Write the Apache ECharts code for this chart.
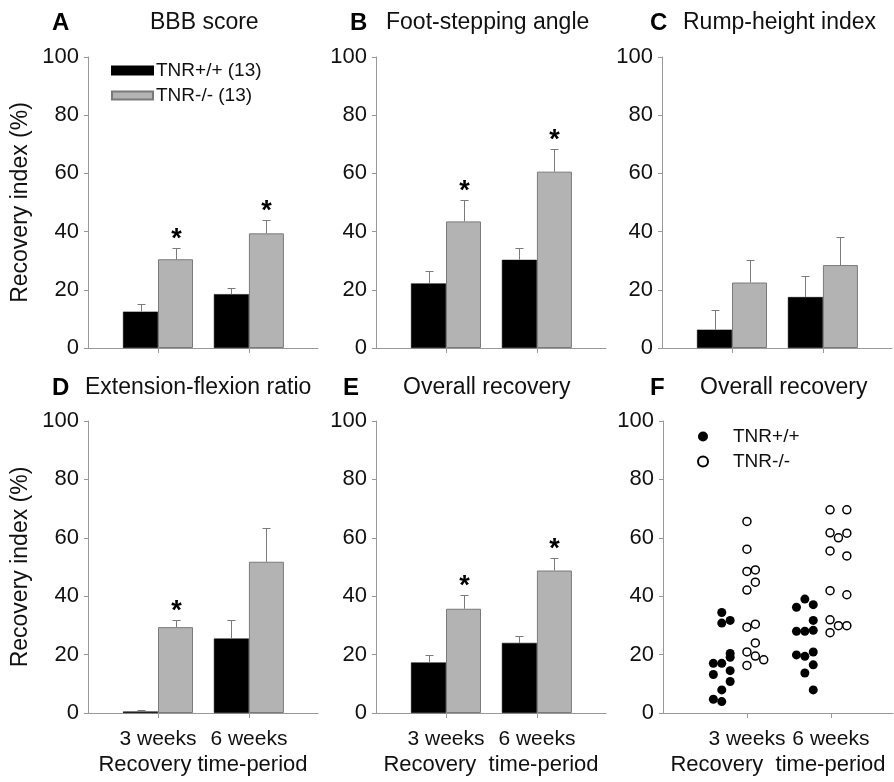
<!DOCTYPE html>
<html>
<head>
<meta charset="utf-8">
<script src="https://cdn.jsdelivr.net/npm/echarts@6/dist/echarts.min.js"></script>
<style>
  html, body { margin: 0; padding: 0; background: #fff; }
  #chart { width: 894px; height: 782px; }
</style>
</head>
<body>
<div id="chart"></div>
<script>
// ---- data ----
const weeks = ['3 weeks', '6 weeks'];
const groupPos = [1, 2];

const letters = ['A', 'B', 'C', 'D', 'E', 'F'];
const titles = ['BBB score', 'Foot-stepping angle', 'Rump-height index',
  'Extension-flexion ratio', 'Overall recovery', 'Overall recovery'];

// bar panels A-E: [3 weeks, 6 weeks]
const wtMean = [[12.5, 18.5], [22.2, 30.3], [6.3, 17.5], [0.5, 25.5], [17.3, 24.0]];
const wtUpper = [[15.0, 20.5], [26.6, 34.5], [13.2, 24.8], [1.0, 31.9], [20.0, 26.5]];
const koMean = [[30.5, 39.4], [43.5, 60.6], [22.5, 28.5], [29.4, 51.8], [35.7, 48.8]];
const koUpper = [[34.5, 44.0], [50.7, 68.5], [30.4, 38.3], [31.9, 63.2], [40.3, 53.1]];
const koStar = [[1, 1], [1, 1], [0, 0], [1, 0], [1, 1]];

// panel F: individual animals [column position, recovery index]
const f3wkWT = [[0.7, 34.4], [0.7, 30.8], [0.8, 31.7], [0.8, 20.4], [0.8, 19.1], [0.6, 17.0], [0.7, 17.0],
  [0.6, 13.2], [0.8, 14.5], [0.8, 10.8], [0.7, 7.9], [0.6, 4.7], [0.7, 3.9]];
const f3wkKO = [[1.0, 65.6], [1.0, 56.1], [1.0, 48.5], [1.1, 49.0], [1.1, 44.8], [1.0, 42.1], [1.0, 29.4],
  [1.1, 30.4], [1.1, 24.0], [1.0, 20.9], [1.1, 19.5], [1.2, 18.2], [1.0, 16.3]];
const f6wkWT = [[1.69, 39.0], [1.59, 36.2], [1.79, 37.1], [1.79, 31.7], [1.59, 28.0], [1.69, 28.0], [1.79, 28.3],
  [1.59, 19.9], [1.69, 19.4], [1.79, 20.9], [1.79, 16.5], [1.69, 13.7], [1.79, 7.9]];
const f6wkKO = [[1.99, 69.6], [2.19, 69.6], [1.99, 61.7], [2.19, 61.6], [2.09, 60.0], [1.99, 55.5], [2.19, 53.8],
  [1.99, 41.9], [2.19, 40.5], [1.99, 31.9], [2.09, 29.9], [2.19, 29.9], [1.99, 27.5]];

// ---- layout / style ----
const FONT = "'Liberation Sans', Arial, sans-serif";
const TXT = '#111';
const AX = '#999';
const BAR_W = 35;
const GRIDS = [
  { left: 88, top: 57, width: 230, height: 291 },
  { left: 376, top: 57, width: 230, height: 291 },
  { left: 662, top: 57, width: 230, height: 291 },
  { left: 88, top: 421, width: 230, height: 292 },
  { left: 376, top: 421, width: 230, height: 292 },
  { left: 663, top: 421, width: 230, height: 292 },
];
const LETTER_POS = [[52, 11], [350, 11], [650, 11], [52, 376], [343, 376], [650, 376]];
const TITLE_POS = [[150, 11], [386, 11], [683, 11], [85, 376], [403, 376], [700, 376]];

const xNames = ['', '', '', 'Recovery time-period', 'Recovery  time-period', 'Recovery  time-period'];

function xAxis(i) {
  const bottom = i >= 3;
  return {
    gridIndex: i,
    type: 'value',
    min: i === 5 ? 0 : 0.23,
    max: i === 5 ? 2.74 : 2.76,
    axisLine: { show: true, onZero: false, lineStyle: { color: AX, width: 1 } },
    axisTick: { show: true, customValues: groupPos, length: 5, lineStyle: { color: AX } },
    axisLabel: {
      show: bottom, customValues: groupPos, margin: 16,
      formatter: (v) => weeks[groupPos.indexOf(v)] || '',
      fontSize: 21, color: TXT, fontFamily: FONT,
    },
    splitLine: { show: false },
    name: xNames[i], nameLocation: 'middle', nameGap: 41,
    nameTextStyle: { fontSize: 22, color: TXT, fontFamily: FONT },
  };
}

function yAxis(i) {
  return {
    gridIndex: i,
    type: 'value', min: 0, max: 100, interval: 20,
    axisLine: { show: true, lineStyle: { color: AX, width: 1 } },
    axisTick: { show: true, length: 4, lineStyle: { color: AX } },
    axisLabel: { fontSize: 22, color: TXT, fontFamily: FONT, margin: 9 },
    splitLine: { show: false },
    name: (i === 0 || i === 3) ? 'Recovery index (%)' : '',
    nameLocation: 'middle', nameGap: 56,
    nameTextStyle: { fontSize: 23, color: TXT, fontFamily: FONT },
  };
}

function errorBar(side) {
  return function (params, api) {
    const x = api.value(0);
    const p0 = api.coord([x, api.value(1)]);
    const p1 = api.coord([x, api.value(2)]);
    const cx = Math.round(p0[0] + side * BAR_W / 2) + 0.5;
    const yTop = Math.round(p1[1]) + 0.5;
    const st = { stroke: '#7a7a7a', lineWidth: 1 };
    const kids = [
      { type: 'line', shape: { x1: cx, y1: p0[1], x2: cx, y2: yTop }, style: st },
      { type: 'line', shape: { x1: cx - 4, y1: yTop, x2: cx + 4, y2: yTop }, style: st },
    ];
    if (api.value(3)) {
      kids.push({
        type: 'text', x: cx, y: yTop - 9,
        style: { text: '*', fill: '#000', font: 'bold 27px ' + FONT, align: 'center', verticalAlign: 'middle' },
      });
    }
    return { type: 'group', children: kids };
  };
}

const series = [];
for (let i = 0; i < 5; i++) {
  series.push({
    name: 'TNR+/+ (13)', type: 'bar', xAxisIndex: i, yAxisIndex: i,
    barWidth: BAR_W, barGap: '0%',
    data: groupPos.map((x, j) => [x, wtMean[i][j]]),
    itemStyle: { color: '#000', borderColor: '#000', borderWidth: 0.5 },
  });
  series.push({
    name: 'TNR-/- (13)', type: 'bar', xAxisIndex: i, yAxisIndex: i,
    barWidth: BAR_W, barGap: '0%',
    data: groupPos.map((x, j) => [x, koMean[i][j]]),
    itemStyle: { color: '#b3b3b3', borderColor: '#7a7a7a', borderWidth: 1 },
  });
  series.push({
    type: 'custom', xAxisIndex: i, yAxisIndex: i, z: 5,
    renderItem: errorBar(-1), encode: { x: 0, y: 2 },
    data: groupPos.map((x, j) => [x, wtMean[i][j], wtUpper[i][j], 0]),
  });
  series.push({
    type: 'custom', xAxisIndex: i, yAxisIndex: i, z: 5,
    renderItem: errorBar(1), encode: { x: 0, y: 2 },
    data: groupPos.map((x, j) => [x, koMean[i][j], koUpper[i][j], koStar[i][j]]),
  });
}
series.push({
  name: 'TNR+/+', type: 'scatter', xAxisIndex: 5, yAxisIndex: 5,
  symbol: 'circle', symbolSize: 9,
  data: f3wkWT.concat(f6wkWT),
  itemStyle: { color: '#000', opacity: 1 },
});
series.push({
  name: 'TNR-/-', type: 'scatter', xAxisIndex: 5, yAxisIndex: 5,
  symbol: 'circle', symbolSize: 8,
  data: f3wkKO.concat(f6wkKO),
  itemStyle: { color: '#fff', borderColor: '#000', borderWidth: 1.5, opacity: 1 },
});

const titleList = [];
for (let i = 0; i < 6; i++) {
  titleList.push({
    text: letters[i], left: LETTER_POS[i][0], top: LETTER_POS[i][1], padding: 0,
    textStyle: { fontSize: 24, fontWeight: 'bold', color: '#000', fontFamily: FONT },
  });
  titleList.push({
    text: titles[i], left: TITLE_POS[i][0], top: TITLE_POS[i][1], padding: 0,
    textStyle: { fontSize: 23, fontWeight: 'normal', color: TXT, fontFamily: FONT },
  });
}

const chart = echarts.init(document.getElementById('chart'), null, { renderer: 'canvas' });
chart.setOption({
  animation: false,
  backgroundColor: '#fff',
  textStyle: { fontFamily: FONT },
  title: titleList,
  legend: [
    {
      data: ['TNR+/+ (13)', 'TNR-/- (13)'], orient: 'vertical',
      left: 111, top: 61, padding: 0, itemGap: 6,
      icon: 'rect', itemWidth: 41, itemHeight: 8, selectedMode: false,
      textStyle: { fontSize: 19, color: TXT, fontFamily: FONT, padding: [0, 0, 0, -2] },
    },
    {
      data: ['TNR+/+', 'TNR-/-'], orient: 'vertical',
      left: 697, top: 427, padding: 0, itemGap: 6,
      icon: 'circle', itemWidth: 50, itemHeight: 10, selectedMode: false,
      textStyle: { fontSize: 19, color: TXT, fontFamily: FONT },
    },
  ],
  grid: GRIDS.map((g) => Object.assign({ containLabel: false }, g)),
  xAxis: GRIDS.map((g, i) => xAxis(i)),
  yAxis: GRIDS.map((g, i) => yAxis(i)),
  series,
});
</script>
</body>
</html>
